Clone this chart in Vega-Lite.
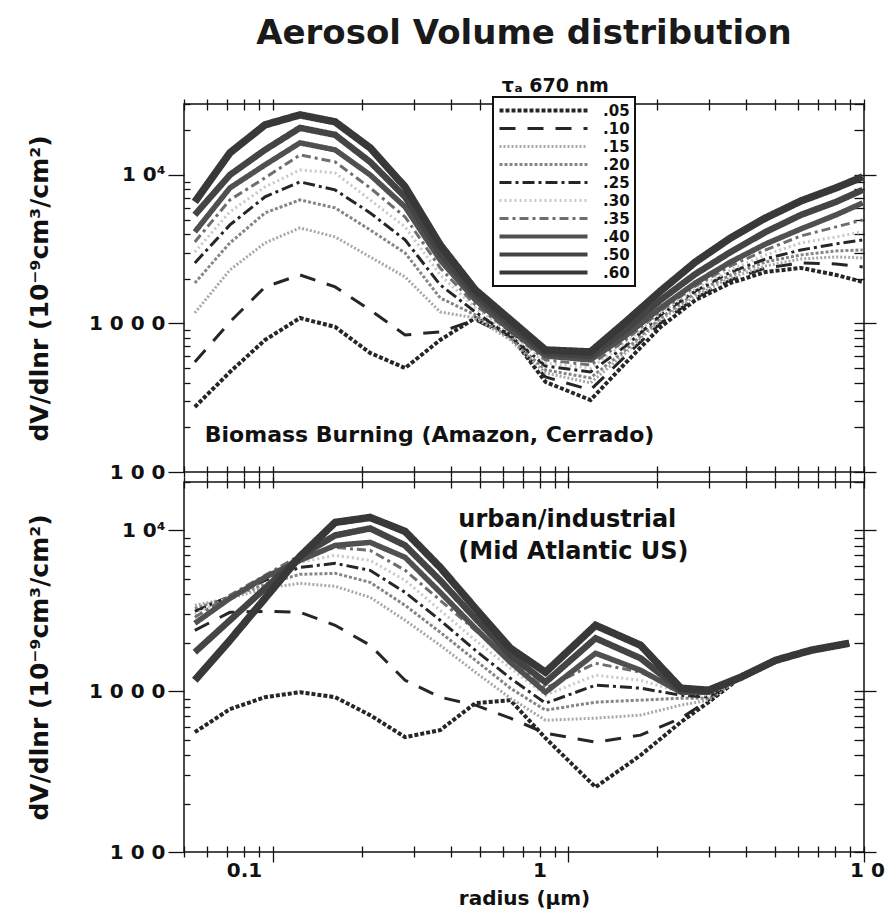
{
  "$schema": "https://vega.github.io/schema/vega-lite/v6.json",
  "background": "white",
  "padding": {"left": 26, "top": 17, "right": 0, "bottom": 6},
  "title": {"text": "Aerosol  Volume  distribution", "font": "DejaVu Sans", "fontSize": 34, "fontWeight": "bold", "color": "#1a1a1a", "anchor": "middle", "offset": 25, "dx": 68},
  "config": {
    "view": {"stroke": "#111", "strokeWidth": 1.5},
    "axis": {"grid": false, "domain": false, "labelFont": "DejaVu Sans", "labelFontWeight": "bold", "labelFontSize": 20, "labelColor": "#111", "titleFont": "DejaVu Sans", "titleFontWeight": "bold", "titleFontSize": 25, "titleColor": "#111", "tickColor": "#111", "tickWidth": 1.3}
  },
  "bounds": "flush",
  "spacing": 10,
  "resolve": {"legend": {"color": "independent", "strokeDash": "independent"}},
  "datasets": {
    "top": [
      {"tau":".05","r":0.0544,"v":274},{"tau":".05","r":0.0715,"v":471},{"tau":".05","r":0.094,"v":774},{"tau":".05","r":0.1235,"v":1089},{"tau":".05","r":0.1623,"v":947},{"tau":".05","r":0.2132,"v":633},{"tau":".05","r":0.28,"v":501},{"tau":".05","r":0.368,"v":774},{"tau":".05","r":0.484,"v":1089},{"tau":".05","r":0.636,"v":837},{"tau":".05","r":0.836,"v":404},{"tau":".05","r":1.187,"v":305},{"tau":".05","r":1.56,"v":542},{"tau":".05","r":2.05,"v":947},{"tau":".05","r":2.69,"v":1439},{"tau":".05","r":3.54,"v":1874},{"tau":".05","r":4.65,"v":2222},{"tau":".05","r":6.12,"v":2364},{"tau":".05","r":8.04,"v":2121},{"tau":".05","r":9.9,"v":1903},
      {"tau":".10","r":0.0544,"v":550},{"tau":".10","r":0.0715,"v":1023},{"tau":".10","r":0.094,"v":1761},{"tau":".10","r":0.1235,"v":2121},{"tau":".10","r":0.1623,"v":1761},{"tau":".10","r":0.2132,"v":1233},{"tau":".10","r":0.28,"v":837},{"tau":".10","r":0.368,"v":877},{"tau":".10","r":0.484,"v":1056},{"tau":".10","r":0.636,"v":811},{"tau":".10","r":0.836,"v":436},{"tau":".10","r":1.187,"v":357},{"tau":".10","r":1.56,"v":604},{"tau":".10","r":2.05,"v":1008},{"tau":".10","r":2.69,"v":1485},{"tau":".10","r":3.54,"v":1963},{"tau":".10","r":4.65,"v":2364},{"tau":".10","r":6.12,"v":2555},{"tau":".10","r":8.04,"v":2516},{"tau":".10","r":9.9,"v":2402},
      {"tau":".15","r":0.0544,"v":1177},{"tau":".15","r":0.0715,"v":2292},{"tau":".15","r":0.094,"v":3484},{"tau":".15","r":0.1235,"v":4396},{"tau":".15","r":0.1623,"v":3824},{"tau":".15","r":0.2132,"v":2804},{"tau":".15","r":0.28,"v":2056},{"tau":".15","r":0.368,"v":1195},{"tau":".15","r":0.484,"v":1089},{"tau":".15","r":0.636,"v":774},{"tau":".15","r":0.836,"v":464},{"tau":".15","r":1.187,"v":398},{"tau":".15","r":1.56,"v":633},{"tau":".15","r":2.05,"v":1056},{"tau":".15","r":2.69,"v":1532},{"tau":".15","r":3.54,"v":2025},{"tau":".15","r":4.65,"v":2439},{"tau":".15","r":6.12,"v":2719},{"tau":".15","r":8.04,"v":2804},{"tau":".15","r":9.9,"v":2761},
      {"tau":".20","r":0.0544,"v":1874},{"tau":".20","r":0.0715,"v":3484},{"tau":".20","r":0.094,"v":5548},{"tau":".20","r":0.1235,"v":6785},{"tau":".20","r":0.1623,"v":5995},{"tau":".20","r":0.2132,"v":4262},{"tau":".20","r":0.28,"v":2983},{"tau":".20","r":0.368,"v":1485},{"tau":".20","r":0.484,"v":1141},{"tau":".20","r":0.636,"v":799},{"tau":".20","r":0.836,"v":486},{"tau":".20","r":1.187,"v":430},{"tau":".20","r":1.56,"v":663},{"tau":".20","r":2.05,"v":1089},{"tau":".20","r":2.69,"v":1604},{"tau":".20","r":3.54,"v":2121},{"tau":".20","r":4.65,"v":2595},{"tau":".20","r":6.12,"v":2892},{"tau":".20","r":8.04,"v":3077},{"tau":".20","r":9.9,"v":3125},
      {"tau":".25","r":0.0544,"v":2555},{"tau":".25","r":0.0715,"v":4606},{"tau":".25","r":0.094,"v":7110},{"tau":".25","r":0.1235,"v":8970},{"tau":".25","r":0.1623,"v":7925},{"tau":".25","r":0.2132,"v":5548},{"tau":".25","r":0.28,"v":3650},{"tau":".25","r":0.368,"v":1817},{"tau":".25","r":0.484,"v":1195},{"tau":".25","r":0.636,"v":824},{"tau":".25","r":0.836,"v":517},{"tau":".25","r":1.187,"v":471},{"tau":".25","r":1.56,"v":705},{"tau":".25","r":2.05,"v":1141},{"tau":".25","r":2.69,"v":1655},{"tau":".25","r":3.54,"v":2222},{"tau":".25","r":4.65,"v":2719},{"tau":".25","r":6.12,"v":3125},{"tau":".25","r":8.04,"v":3430},{"tau":".25","r":9.9,"v":3650},
      {"tau":".30","r":0.0544,"v":3030},{"tau":".30","r":0.0715,"v":5635},{"tau":".30","r":0.094,"v":8300},{"tau":".30","r":0.1235,"v":10800},{"tau":".30","r":0.1623,"v":10310},{"tau":".30","r":0.2132,"v":6785},{"tau":".30","r":0.28,"v":4465},{"tau":".30","r":0.368,"v":2121},{"tau":".30","r":0.484,"v":1272},{"tau":".30","r":0.636,"v":850},{"tau":".30","r":0.836,"v":542},{"tau":".30","r":1.187,"v":501},{"tau":".30","r":1.56,"v":739},{"tau":".30","r":2.05,"v":1177},{"tau":".30","r":2.69,"v":1707},{"tau":".30","r":3.54,"v":2292},{"tau":".30","r":4.65,"v":2892},{"tau":".30","r":6.12,"v":3484},{"tau":".30","r":8.04,"v":3824},{"tau":".30","r":9.9,"v":4132},
      {"tau":".35","r":0.0544,"v":3538},{"tau":".35","r":0.0715,"v":6785},{"tau":".35","r":0.094,"v":9545},{"tau":".35","r":0.1235,"v":13630},{"tau":".35","r":0.1623,"v":12230},{"tau":".35","r":0.2132,"v":8175},{"tau":".35","r":0.28,"v":5214},{"tau":".35","r":0.368,"v":2364},{"tau":".35","r":0.484,"v":1332},{"tau":".35","r":0.636,"v":877},{"tau":".35","r":0.836,"v":568},{"tau":".35","r":1.187,"v":525},{"tau":".35","r":1.56,"v":774},{"tau":".35","r":2.05,"v":1214},{"tau":".35","r":2.69,"v":1788},{"tau":".35","r":3.54,"v":2439},{"tau":".35","r":4.65,"v":3125},{"tau":".35","r":6.12,"v":3884},{"tau":".35","r":8.04,"v":4465},{"tau":".35","r":9.9,"v":4977},
      {"tau":".40","r":0.0544,"v":4132},{"tau":".40","r":0.0715,"v":8175},{"tau":".40","r":0.094,"v":11680},{"tau":".40","r":0.1235,"v":16430},{"tau":".40","r":0.1623,"v":14740},{"tau":".40","r":0.2132,"v":10000},{"tau":".40","r":0.28,"v":6088},{"tau":".40","r":0.368,"v":2677},{"tau":".40","r":0.484,"v":1439},{"tau":".40","r":0.636,"v":904},{"tau":".40","r":0.836,"v":604},{"tau":".40","r":1.187,"v":568},{"tau":".40","r":1.56,"v":824},{"tau":".40","r":2.05,"v":1272},{"tau":".40","r":2.69,"v":1874},{"tau":".40","r":3.54,"v":2595},{"tau":".40","r":4.65,"v":3430},{"tau":".40","r":6.12,"v":4329},{"tau":".40","r":8.04,"v":5378},{"tau":".40","r":9.9,"v":6478},
      {"tau":".50","r":0.0544,"v":5378},{"tau":".50","r":0.0715,"v":10000},{"tau":".50","r":0.094,"v":14740},{"tau":".50","r":0.1235,"v":20730},{"tau":".50","r":0.1623,"v":18600},{"tau":".50","r":0.2132,"v":12230},{"tau":".50","r":0.28,"v":7110},{"tau":".50","r":0.368,"v":2983},{"tau":".50","r":0.484,"v":1556},{"tau":".50","r":0.636,"v":977},{"tau":".50","r":0.836,"v":633},{"tau":".50","r":1.187,"v":604},{"tau":".50","r":1.56,"v":904},{"tau":".50","r":2.05,"v":1439},{"tau":".50","r":2.69,"v":2154},{"tau":".50","r":3.54,"v":3030},{"tau":".50","r":4.65,"v":4132},{"tau":".50","r":6.12,"v":5378},{"tau":".50","r":8.04,"v":6580},{"tau":".50","r":9.9,"v":7925},
      {"tau":".60","r":0.0544,"v":6580},{"tau":".60","r":0.0715,"v":14070},{"tau":".60","r":0.094,"v":21720},{"tau":".60","r":0.1235,"v":25350},{"tau":".60","r":0.1623,"v":22750},{"tau":".60","r":0.2132,"v":15200},{"tau":".60","r":0.28,"v":8300},{"tau":".60","r":0.368,"v":3377},{"tau":".60","r":0.484,"v":1681},{"tau":".60","r":0.636,"v":1056},{"tau":".60","r":0.836,"v":663},{"tau":".60","r":1.187,"v":643},{"tau":".60","r":1.56,"v":1023},{"tau":".60","r":2.05,"v":1655},{"tau":".60","r":2.69,"v":2595},{"tau":".60","r":3.54,"v":3765},{"tau":".60","r":4.65,"v":5134},{"tau":".60","r":6.12,"v":6680},{"tau":".60","r":8.04,"v":8175},{"tau":".60","r":9.9,"v":9700}
    ],
    "bottom": [
      {"tau":".05","r":0.0544,"v":556},{"tau":".05","r":0.0715,"v":773},{"tau":".05","r":0.094,"v":918},{"tau":".05","r":0.1235,"v":986},{"tau":".05","r":0.1623,"v":918},{"tau":".05","r":0.2132,"v":710},{"tau":".05","r":0.28,"v":518},{"tau":".05","r":0.368,"v":573},{"tau":".05","r":0.484,"v":842},{"tau":".05","r":0.636,"v":880},{"tau":".05","r":0.836,"v":511},{"tau":".05","r":1.235,"v":253},{"tau":".05","r":1.754,"v":400},{"tau":".05","r":2.4,"v":642},{"tau":".05","r":2.98,"v":855},{"tau":".05","r":3.83,"v":1222},{"tau":".05","r":5.03,"v":1558},{"tau":".05","r":6.61,"v":1797},{"tau":".05","r":8.9,"v":1987},
      {"tau":".10","r":0.0544,"v":2392},{"tau":".10","r":0.0715,"v":3094},{"tau":".10","r":0.094,"v":3139},{"tau":".10","r":0.1235,"v":3094},{"tau":".10","r":0.1623,"v":2570},{"tau":".10","r":0.2132,"v":1931},{"tau":".10","r":0.28,"v":1170},{"tau":".10","r":0.368,"v":918},{"tau":".10","r":0.484,"v":819},{"tau":".10","r":0.636,"v":680},{"tau":".10","r":0.836,"v":548},{"tau":".10","r":1.235,"v":482},{"tau":".10","r":1.754,"v":533},{"tau":".10","r":2.4,"v":680},{"tau":".10","r":2.98,"v":880},{"tau":".10","r":3.83,"v":1222},{"tau":".10","r":5.03,"v":1558},{"tau":".10","r":6.61,"v":1797},{"tau":".10","r":8.9,"v":1987},
      {"tau":".15","r":0.0544,"v":3421},{"tau":".15","r":0.0715,"v":3782},{"tau":".15","r":0.094,"v":4363},{"tau":".15","r":0.1235,"v":4686},{"tau":".15","r":0.1623,"v":4490},{"tau":".15","r":0.2132,"v":3836},{"tau":".15","r":0.28,"v":2761},{"tau":".15","r":0.368,"v":1931},{"tau":".15","r":0.484,"v":1312},{"tau":".15","r":0.636,"v":905},{"tau":".15","r":0.836,"v":660},{"tau":".15","r":1.235,"v":680},{"tau":".15","r":1.754,"v":710},{"tau":".15","r":2.4,"v":819},{"tau":".15","r":2.98,"v":880},{"tau":".15","r":3.83,"v":1222},{"tau":".15","r":5.03,"v":1558},{"tau":".15","r":6.61,"v":1797},{"tau":".15","r":8.9,"v":1987},
      {"tau":".20","r":0.0544,"v":3277},{"tau":".20","r":0.0715,"v":3836},{"tau":".20","r":0.094,"v":4620},{"tau":".20","r":0.1235,"v":5331},{"tau":".20","r":0.1623,"v":5407},{"tau":".20","r":0.2132,"v":4753},{"tau":".20","r":0.28,"v":3421},{"tau":".20","r":0.368,"v":2325},{"tau":".20","r":0.484,"v":1558},{"tau":".20","r":0.636,"v":1044},{"tau":".20","r":0.836,"v":762},{"tau":".20","r":1.235,"v":855},{"tau":".20","r":1.754,"v":880},{"tau":".20","r":2.4,"v":905},{"tau":".20","r":2.98,"v":905},{"tau":".20","r":3.83,"v":1222},{"tau":".20","r":5.03,"v":1558},{"tau":".20","r":6.61,"v":1797},{"tau":".20","r":8.9,"v":1987},
      {"tau":".25","r":0.0544,"v":3139},{"tau":".25","r":0.0715,"v":3891},{"tau":".25","r":0.094,"v":4891},{"tau":".25","r":0.1235,"v":5891},{"tau":".25","r":0.1623,"v":6237},{"tau":".25","r":0.2132,"v":5644},{"tau":".25","r":0.28,"v":4120},{"tau":".25","r":0.368,"v":2761},{"tau":".25","r":0.484,"v":1797},{"tau":".25","r":0.636,"v":1204},{"tau":".25","r":0.836,"v":842},{"tau":".25","r":1.235,"v":1090},{"tau":".25","r":1.754,"v":1044},{"tau":".25","r":2.4,"v":944},{"tau":".25","r":2.98,"v":918},{"tau":".25","r":3.83,"v":1222},{"tau":".25","r":5.03,"v":1558},{"tau":".25","r":6.61,"v":1797},{"tau":".25","r":8.9,"v":1987},
      {"tau":".30","r":0.0544,"v":3007},{"tau":".30","r":0.0715,"v":3891},{"tau":".30","r":0.094,"v":5035},{"tau":".30","r":0.1235,"v":6328},{"tau":".30","r":0.1623,"v":6994},{"tau":".30","r":0.2132,"v":6512},{"tau":".30","r":0.28,"v":4891},{"tau":".30","r":0.368,"v":3184},{"tau":".30","r":0.484,"v":2074},{"tau":".30","r":0.636,"v":1389},{"tau":".30","r":0.836,"v":944},{"tau":".30","r":1.235,"v":1257},{"tau":".30","r":1.754,"v":1170},{"tau":".30","r":2.4,"v":986},{"tau":".30","r":2.98,"v":944},{"tau":".30","r":3.83,"v":1222},{"tau":".30","r":5.03,"v":1558},{"tau":".30","r":6.61,"v":1797},{"tau":".30","r":8.9,"v":1987},
      {"tau":".35","r":0.0544,"v":2881},{"tau":".35","r":0.0715,"v":3947},{"tau":".35","r":0.094,"v":5256},{"tau":".35","r":0.1235,"v":6994},{"tau":".35","r":0.1623,"v":7843},{"tau":".35","r":0.2132,"v":7512},{"tau":".35","r":0.28,"v":5644},{"tau":".35","r":0.368,"v":3675},{"tau":".35","r":0.484,"v":2392},{"tau":".35","r":0.636,"v":1558},{"tau":".35","r":0.836,"v":1044},{"tau":".35","r":1.235,"v":1493},{"tau":".35","r":1.754,"v":1312},{"tau":".35","r":2.4,"v":1014},{"tau":".35","r":2.98,"v":972},{"tau":".35","r":3.83,"v":1222},{"tau":".35","r":5.03,"v":1558},{"tau":".35","r":6.61,"v":1797},{"tau":".35","r":8.9,"v":1987},
      {"tau":".40","r":0.0544,"v":2645},{"tau":".40","r":0.0715,"v":3782},{"tau":".40","r":0.094,"v":5107},{"tau":".40","r":0.1235,"v":6512},{"tau":".40","r":0.1623,"v":8069},{"tau":".40","r":0.2132,"v":8426},{"tau":".40","r":0.28,"v":6797},{"tau":".40","r":0.368,"v":4120},{"tau":".40","r":0.484,"v":2462},{"tau":".40","r":0.636,"v":1514},{"tau":".40","r":0.836,"v":986},{"tau":".40","r":1.235,"v":1722},{"tau":".40","r":1.754,"v":1350},{"tau":".40","r":2.4,"v":986},{"tau":".40","r":2.98,"v":986},{"tau":".40","r":3.83,"v":1222},{"tau":".40","r":5.03,"v":1558},{"tau":".40","r":6.61,"v":1797},{"tau":".40","r":8.9,"v":1987},
      {"tau":".50","r":0.0544,"v":1747},{"tau":".50","r":0.0715,"v":2761},{"tau":".50","r":0.094,"v":4363},{"tau":".50","r":0.1235,"v":6895},{"tau":".50","r":0.1623,"v":9310},{"tau":".50","r":0.2132,"v":10290},{"tau":".50","r":0.28,"v":8069},{"tau":".50","r":0.368,"v":4891},{"tau":".50","r":0.484,"v":2841},{"tau":".50","r":0.636,"v":1674},{"tau":".50","r":0.836,"v":1137},{"tau":".50","r":1.235,"v":2134},{"tau":".50","r":1.754,"v":1603},{"tau":".50","r":2.4,"v":1014},{"tau":".50","r":2.98,"v":1000},{"tau":".50","r":3.83,"v":1222},{"tau":".50","r":5.03,"v":1558},{"tau":".50","r":6.61,"v":1797},{"tau":".50","r":8.9,"v":1987},
      {"tau":".60","r":0.0544,"v":1170},{"tau":".60","r":0.0715,"v":2074},{"tau":".60","r":0.094,"v":3782},{"tau":".60","r":0.1235,"v":6895},{"tau":".60","r":0.1623,"v":11210},{"tau":".60","r":0.2132,"v":12040},{"tau":".60","r":0.28,"v":9858},{"tau":".60","r":0.368,"v":5891},{"tau":".60","r":0.484,"v":3277},{"tau":".60","r":0.636,"v":1850},{"tau":".60","r":0.836,"v":1312},{"tau":".60","r":1.235,"v":2570},{"tau":".60","r":1.754,"v":1931},{"tau":".60","r":2.4,"v":1044},{"tau":".60","r":2.98,"v":1014},{"tau":".60","r":3.83,"v":1222},{"tau":".60","r":5.03,"v":1558},{"tau":".60","r":6.61,"v":1797},{"tau":".60","r":8.9,"v":1987}
    ],
    "notes": [
      {"panel":"top","r":0.0588,"v":177,"label":"Biomass  Burning  (Amazon,  Cerrado)"},
      {"panel":"bottom","r":0.424,"v":11540,"label":"urban/industrial"},
      {"panel":"bottom","r":0.424,"v":7302,"label":"(Mid  Atlantic  US)"},
      {"panel":"tau","r":0.903,"v":39760,"label":"τₐ   670  nm"}
    ]
  },
  "vconcat": [
    {
      "width": 680,
      "height": 368,
      "resolve": {"axis": {"x": "independent", "y": "independent"}},
      "layer": [
        {
          "data": {"name": "top"},
          "mark": {"type": "line", "clip": true},
          "encoding": {
            "x": {"field": "r", "type": "quantitative", "scale": {"type": "log", "domain": [0.05, 10], "nice": false}, "axis": {"orient": "bottom", "values": [0.1, 1, 10], "labels": false, "tickSize": 10, "title": null}},
            "y": {"field": "v", "type": "quantitative", "scale": {"type": "log", "domain": [100, 30000], "nice": false}, "axis": {"orient": "left", "values": [100, 1000, 10000], "tickSize": 16, "labelPadding": 3, "labelExpr": "datum.value == 10000 ? '1 0⁴' : datum.value == 1000 ? '1 0 0 0' : '1 0 0'", "title": "dV/dlnr  (10⁻⁹cm³/cm²)", "titlePadding": 36}},
            "color": {"field": "tau", "type": "nominal", "scale": {"domain": [".05", ".10", ".15", ".20", ".25", ".30", ".35", ".40", ".50", ".60"], "range": ["#262626", "#262626", "#a8a8a8", "#858585", "#262626", "#c8c8c8", "#6e6e6e", "#505050", "#444444", "#383838"]},
              "legend": {"orient": "none", "legendX": 309, "legendY": -7, "title": null, "symbolType": "stroke", "symbolSize": 7744, "symbolStrokeWidth": 3, "clipHeight": 17, "labelFont": "DejaVu Sans", "labelFontWeight": "bold", "labelFontSize": 15, "labelColor": "#111", "labelOffset": 14, "rowPadding": 1, "padding": 5, "fillColor": "white", "strokeColor": "#111",
                "encode": {"symbols": {"update": {"strokeWidth": {"signal": "((datum.value == '.60' || datum.value == '.50' || datum.value == '.40') ? 4.2 : (datum.value == '.05' ? 4 : 3))"}}}, "legend": {"update": {"strokeWidth": {"value": 2}}}}}},
            "strokeDash": {"field": "tau", "type": "nominal", "scale": {"domain": [".05", ".10", ".15", ".20", ".25", ".30", ".35", ".40", ".50", ".60"], "range": [[4, 2], [16, 12], [2, 2], [3, 2], [12, 4, 3, 4], [2, 3], [9, 4, 3, 4], [1, 0], [1, 0], [1, 0]]},
              "legend": {"orient": "none", "legendX": 309, "legendY": -7, "title": null, "symbolType": "stroke", "symbolSize": 7744, "symbolStrokeWidth": 3, "clipHeight": 17, "labelFont": "DejaVu Sans", "labelFontWeight": "bold", "labelFontSize": 15, "labelColor": "#111", "labelOffset": 14, "rowPadding": 1, "padding": 5, "fillColor": "white", "strokeColor": "#111",
                "encode": {"symbols": {"update": {"strokeWidth": {"signal": "((datum.value == '.60' || datum.value == '.50' || datum.value == '.40') ? 4.2 : (datum.value == '.05' ? 4 : 3))"}}}, "legend": {"update": {"strokeWidth": {"value": 2}}}}}},
            "strokeWidth": {"condition": [{"test": "datum.tau == '.60'", "value": 7.5}, {"test": "datum.tau == '.50'", "value": 6.5}, {"test": "datum.tau == '.40'", "value": 5.5}, {"test": "datum.tau == '.05'", "value": 4}], "value": 3}
          }
        },
        {
          "data": {"name": "top"},
          "mark": {"type": "point", "opacity": 0},
          "encoding": {
            "x": {"field": "r", "type": "quantitative", "scale": {"type": "log", "domain": [0.05, 10], "nice": false}, "axis": {"orient": "bottom", "values": [0.05,0.06,0.07,0.08,0.09,0.1,0.2,0.3,0.4,0.5,0.6,0.7,0.8,0.9,1,2,3,4,5,6,7,8,9,10], "labels": false, "tickSize": -6, "title": null}},
            "y": {"field": "v", "type": "quantitative", "scale": {"type": "log", "domain": [100, 30000], "nice": false}, "axis": {"orient": "left", "values": [200,300,400,500,600,700,800,900,2000,3000,4000,5000,6000,7000,8000,9000,20000,30000], "labels": false, "tickSize": -6, "title": null}}
          }
        },
        {
          "data": {"name": "top"},
          "mark": {"type": "point", "opacity": 0},
          "encoding": {
            "x": {"field": "r", "type": "quantitative", "scale": {"type": "log", "domain": [0.05, 10], "nice": false}, "axis": {"orient": "top", "values": [0.05,0.06,0.07,0.08,0.09,0.1,0.2,0.3,0.4,0.5,0.6,0.7,0.8,0.9,1,2,3,4,5,6,7,8,9,10], "labels": false, "tickSize": -6, "title": null}},
            "y": {"field": "v", "type": "quantitative", "scale": {"type": "log", "domain": [100, 30000], "nice": false}, "axis": {"orient": "right", "values": [100,200,300,400,500,600,700,800,900,1000,2000,3000,4000,5000,6000,7000,8000,9000,10000,20000,30000], "labels": false, "tickSize": -10, "title": null}}
          }
        },
        {
          "data": {"name": "top"},
          "mark": {"type": "point", "opacity": 0},
          "encoding": {
            "x": {"field": "r", "type": "quantitative", "scale": {"type": "log", "domain": [0.05, 10], "nice": false}, "axis": {"orient": "top", "values": [0.05,0.06,0.07,0.08,0.09,0.1,0.2,0.3,0.4,0.5,0.6,0.7,0.8,0.9,1,2,3,4,5,6,7,8,9,10], "labels": false, "tickSize": 5, "title": null}},
            "y": {"field": "v", "type": "quantitative", "scale": {"type": "log", "domain": [100, 30000], "nice": false}, "axis": {"orient": "right", "values": [100, 1000, 10000], "labels": false, "tickSize": 12, "title": null}}
          }
        },
        {
          "data": {"name": "top"},
          "mark": {"type": "point", "opacity": 0},
          "encoding": {
            "x": {"field": "r", "type": "quantitative", "scale": {"type": "log", "domain": [0.05, 10], "nice": false}, "axis": {"orient": "bottom", "values": [0.05,0.06,0.07,0.08,0.09,0.2,0.3,0.4,0.5,0.6,0.7,0.8,0.9,2,3,4,5,6,7,8,9], "labels": false, "tickSize": 5, "title": null}},
            "y": {"field": "v", "type": "quantitative", "scale": {"type": "log", "domain": [100, 30000], "nice": false}, "axis": null}
          }
        },
        {
          "data": {"name": "notes"},
          "transform": [{"filter": "datum.panel == 'top'"}],
          "mark": {"type": "text", "font": "DejaVu Sans", "fontWeight": "bold", "fontSize": 22, "align": "left", "baseline": "middle", "color": "#111"},
          "encoding": {
            "x": {"field": "r", "type": "quantitative", "scale": {"type": "log", "domain": [0.05, 10], "nice": false}, "axis": null},
            "y": {"field": "v", "type": "quantitative", "scale": {"type": "log", "domain": [100, 30000], "nice": false}, "axis": null},
            "text": {"field": "label"}
          }
        },
        {
          "data": {"name": "notes"},
          "transform": [{"filter": "datum.panel == 'tau'"}],
          "mark": {"type": "text", "font": "DejaVu Sans", "fontWeight": "bold", "fontSize": 19, "align": "center", "baseline": "middle", "color": "#111"},
          "encoding": {
            "x": {"field": "r", "type": "quantitative", "scale": {"type": "log", "domain": [0.05, 10], "nice": false}, "axis": null},
            "y": {"field": "v", "type": "quantitative", "scale": {"type": "log", "domain": [100, 30000], "nice": false}, "axis": null},
            "text": {"field": "label"}
          }
        }
      ]
    },
    {
      "width": 680,
      "height": 370,
      "resolve": {"axis": {"x": "independent", "y": "independent"}},
      "layer": [
        {
          "data": {"name": "bottom"},
          "mark": {"type": "line", "clip": true},
          "encoding": {
            "x": {"field": "r", "type": "quantitative", "scale": {"type": "log", "domain": [0.05, 10], "nice": false}, "axis": {"orient": "bottom", "values": [0.1, 1, 10], "tickSize": 10, "labelPadding": -2, "labelFlush": false, "labelExpr": "datum.value < 0.5 ? '0.1' : datum.value < 5 ? '1' : '1 0'", "labelOffset": {"condition": {"test": "datum.value < 5", "value": -29}, "value": 3}, "title": "radius  (μm)", "titleFontSize": 20, "titlePadding": 8}},
            "y": {"field": "v", "type": "quantitative", "scale": {"type": "log", "domain": [100, 20000], "nice": false}, "axis": {"orient": "left", "values": [100, 1000, 10000], "tickSize": 16, "labelPadding": 3, "labelExpr": "datum.value == 10000 ? '1 0⁴' : datum.value == 1000 ? '1 0 0 0' : '1 0 0'", "title": "dV/dlnr  (10⁻⁹cm³/cm²)", "titlePadding": 36}},
            "color": {"field": "tau", "type": "nominal", "scale": {"domain": [".05", ".10", ".15", ".20", ".25", ".30", ".35", ".40", ".50", ".60"], "range": ["#262626", "#262626", "#a8a8a8", "#858585", "#262626", "#c8c8c8", "#6e6e6e", "#505050", "#444444", "#383838"]}, "legend": null},
            "strokeDash": {"field": "tau", "type": "nominal", "scale": {"domain": [".05", ".10", ".15", ".20", ".25", ".30", ".35", ".40", ".50", ".60"], "range": [[4, 2], [16, 12], [2, 2], [3, 2], [12, 4, 3, 4], [2, 3], [9, 4, 3, 4], [1, 0], [1, 0], [1, 0]]}, "legend": null},
            "strokeWidth": {"condition": [{"test": "datum.tau == '.60'", "value": 7.5}, {"test": "datum.tau == '.50'", "value": 6.5}, {"test": "datum.tau == '.40'", "value": 5.5}, {"test": "datum.tau == '.05'", "value": 4}], "value": 3}
          }
        },
        {
          "data": {"name": "bottom"},
          "mark": {"type": "point", "opacity": 0},
          "encoding": {
            "x": {"field": "r", "type": "quantitative", "scale": {"type": "log", "domain": [0.05, 10], "nice": false}, "axis": {"orient": "bottom", "values": [0.05,0.06,0.07,0.08,0.09,0.1,0.2,0.3,0.4,0.5,0.6,0.7,0.8,0.9,1,2,3,4,5,6,7,8,9,10], "labels": false, "tickSize": -6, "title": null}},
            "y": {"field": "v", "type": "quantitative", "scale": {"type": "log", "domain": [100, 20000], "nice": false}, "axis": {"orient": "left", "values": [200,300,400,500,600,700,800,900,2000,3000,4000,5000,6000,7000,8000,9000,20000], "labels": false, "tickSize": -6, "title": null}}
          }
        },
        {
          "data": {"name": "bottom"},
          "mark": {"type": "point", "opacity": 0},
          "encoding": {
            "x": {"field": "r", "type": "quantitative", "scale": {"type": "log", "domain": [0.05, 10], "nice": false}, "axis": {"orient": "top", "values": [0.05,0.06,0.07,0.08,0.09,0.1,0.2,0.3,0.4,0.5,0.6,0.7,0.8,0.9,1,2,3,4,5,6,7,8,9,10], "labels": false, "tickSize": -6, "title": null}},
            "y": {"field": "v", "type": "quantitative", "scale": {"type": "log", "domain": [100, 20000], "nice": false}, "axis": {"orient": "right", "values": [100,200,300,400,500,600,700,800,900,1000,2000,3000,4000,5000,6000,7000,8000,9000,10000,20000], "labels": false, "tickSize": -10, "title": null}}
          }
        },
        {
          "data": {"name": "bottom"},
          "mark": {"type": "point", "opacity": 0},
          "encoding": {
            "x": {"field": "r", "type": "quantitative", "scale": {"type": "log", "domain": [0.05, 10], "nice": false}, "axis": {"orient": "top", "values": [0.05,0.06,0.07,0.08,0.09,0.1,0.2,0.3,0.4,0.5,0.6,0.7,0.8,0.9,1,2,3,4,5,6,7,8,9,10], "labels": false, "tickSize": 5, "title": null}},
            "y": {"field": "v", "type": "quantitative", "scale": {"type": "log", "domain": [100, 20000], "nice": false}, "axis": {"orient": "right", "values": [100, 1000, 10000], "labels": false, "tickSize": 12, "title": null}}
          }
        },
        {
          "data": {"name": "bottom"},
          "mark": {"type": "point", "opacity": 0},
          "encoding": {
            "x": {"field": "r", "type": "quantitative", "scale": {"type": "log", "domain": [0.05, 10], "nice": false}, "axis": {"orient": "bottom", "values": [0.05,0.06,0.07,0.08,0.09,0.2,0.3,0.4,0.5,0.6,0.7,0.8,0.9,2,3,4,5,6,7,8,9], "labels": false, "tickSize": 5, "title": null}},
            "y": {"field": "v", "type": "quantitative", "scale": {"type": "log", "domain": [100, 20000], "nice": false}, "axis": null}
          }
        },
        {
          "data": {"name": "notes"},
          "transform": [{"filter": "datum.panel == 'bottom'"}],
          "mark": {"type": "text", "font": "DejaVu Sans", "fontWeight": "bold", "fontSize": 24, "align": "left", "baseline": "middle", "color": "#111"},
          "encoding": {
            "x": {"field": "r", "type": "quantitative", "scale": {"type": "log", "domain": [0.05, 10], "nice": false}, "axis": null},
            "y": {"field": "v", "type": "quantitative", "scale": {"type": "log", "domain": [100, 20000], "nice": false}, "axis": null},
            "text": {"field": "label"}
          }
        }
      ]
    }
  ]
}
